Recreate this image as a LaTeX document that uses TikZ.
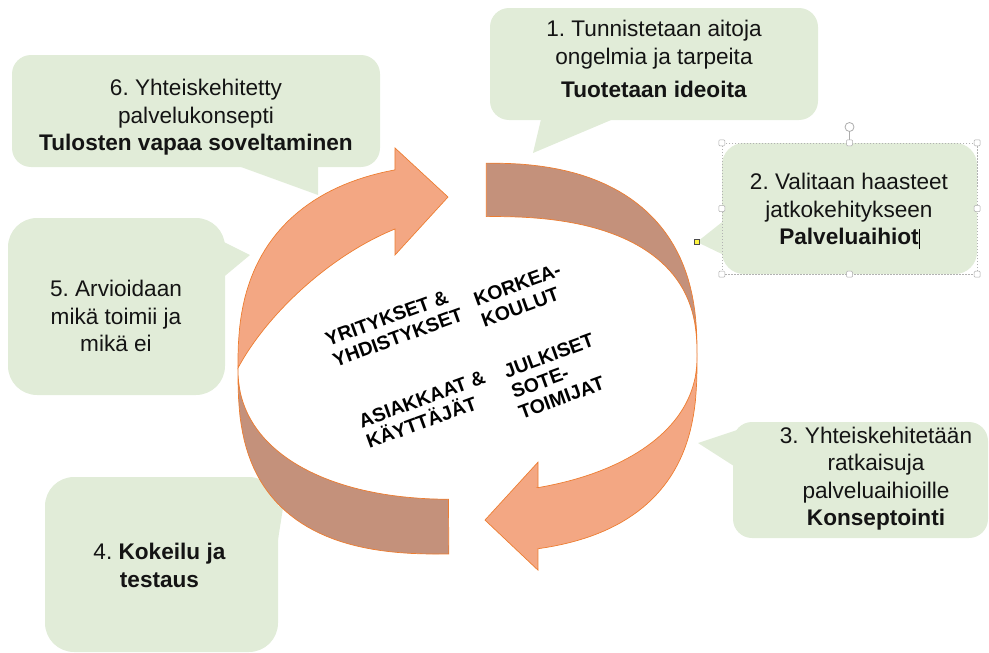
\documentclass[tikz,border=0pt]{standalone}
\usepackage{fontspec}
\setmainfont{Liberation Sans}
\definecolor{boxgreen}{RGB}{225,236,216}
\definecolor{arrlight}{RGB}{243,167,131}
\definecolor{arrdark}{RGB}{196,145,123}
\definecolor{arredge}{RGB}{237,125,49}
\begin{document}
\frenchspacing
\begin{tikzpicture}[x=1pt,y=-1pt,
  bubble/.style={fill=boxgreen, draw=none, inner sep=0pt},
  tail/.style={fill=boxgreen, draw=none},
  btext/.style={align=center, font=\fontsize{22.6}{27.5}\selectfont, inner sep=0pt, text=black!92},
  ctext/.style={align=left, font=\fontsize{19.5}{22}\selectfont\bfseries, inner sep=0pt, rotate=20, anchor=north west},
  ringlight/.style={fill=arrlight, draw=arredge, line width=0.7pt, line join=miter},
  ringdark/.style={fill=arrdark, draw=arredge, line width=0.7pt},
  handle/.style={draw=gray!65, fill=white, rounded corners=1pt, minimum size=6pt, inner sep=0pt, line width=0.5pt}
]
\useasboundingbox (0,0) rectangle (989,653);
\clip (0,0) rectangle (989,653);

% callout boxes
\node[bubble, rounded corners=19pt, minimum width=328pt, minimum height=112pt] (b1) at (654,64) {};
\node[bubble, rounded corners=22pt, minimum width=255pt, minimum height=131pt] (b2) at (849.5,208.5) {};
\node[bubble, rounded corners=19pt, minimum width=255pt, minimum height=116pt] (b3) at (860.5,480) {};
\node[bubble, rounded corners=29pt, minimum width=233pt, minimum height=175pt] (b4) at (161.5,564.5) {};
\node[bubble, rounded corners=29pt, minimum width=217pt, minimum height=177pt] (b5) at (116.5,306.5) {};
\node[bubble, rounded corners=19pt, minimum width=368pt, minimum height=112pt] (b6) at (196,111) {};

% tails
\fill[tail] (542,115) -- (623,115) -- (533,153) -- cycle;
\fill[tail] (726,219) -- (697,242) -- (726,256) -- cycle;
\fill[tail] (737,430) -- (698,443) -- (737,468) -- cycle;
\fill[tail] (262,497) -- (283,508) -- (274,565) -- cycle;
\fill[tail] (220,240) -- (250,255) -- (220,280) -- cycle;
\fill[tail] (230,163) -- (318,163) -- (318,195) -- cycle;

% texts
\node[btext] (t1) at (654,59) {1. Tunnistetaan aitoja\\ongelmia ja tarpeita\\[6pt]\textbf{Tuotetaan ideoita}};
\node[btext] (t2) at (849,209.4) {2. Valitaan haasteet\\jatkokehitykseen\\\textbf{Palveluaihiot}};
\node[btext] (t3) at (876,478.7) {3. Yhteiskehitetään\\ratkaisuja\\palveluaihioille\\\textbf{Konseptointi}};
\node[btext] (t4) at (159.5,565.6) {4. \textbf{Kokeilu ja}\\\textbf{testaus}};
\node[btext] (t5) at (116,316.1) {5. Arvioidaan\\mikä toimii ja\\mikä ei};
\node[btext] (t6) at (196,117.6) {6. Yhteiskehitetty\\palvelukonsepti\\\textbf{Tulosten vapaa soveltaminen}};

% selection frame around box 2
\draw[gray!60, dash pattern=on 1.5pt off 1.5pt, line width=0.5pt] (b2.north west) rectangle (b2.south east);
\node[draw=gray!65, circle, minimum size=9pt, inner sep=0pt, line width=0.8pt] (rot) at (849.5,127) {};
\draw[gray!65, line width=0.6pt] (rot) -- (b2.north);
\node[handle] (h1) at (b2.north west) {};
\node[handle] (h2) at (b2.north) {};
\node[handle] (h3) at (b2.north east) {};
\node[handle] (h4) at (b2.west) {};
\node[handle] (h5) at (b2.east) {};
\node[handle] (h6) at (b2.south west) {};
\node[handle] (h7) at (b2.south) {};
\node[handle] (h8) at (b2.south east) {};
\node[draw=gray!60!black, fill=yellow!75, minimum size=5pt, inner sep=0pt, line width=0.4pt] (adj) at (697,242) {};
\coordinate (cur1) at (919.5,229);
\coordinate (cur2) at (919.5,249);
\draw[line width=0.6pt] (cur1) -- (cur2);

% ring arrows (local frame centred on the ring, y downwards)
\begin{scope}[shift={(467.5,362)}, yslant=0.026]
\filldraw[ringlight]
  plot[domain=180:103.7, samples=40, variable=\t] ({-229.5*pow(abs(cos(\t))+0.0001,0.8)},{-198.5*pow(abs(sin(\t))+0.0001,0.8)})
  -- (-72.5,-215.9) -- (-19.5,-165.5) -- (-72.5,-108.9) -- (-72.5,-134.9)
  .. controls (-138,-110) and (-200.7,-52.8) .. (-229.5,0) -- cycle;
\filldraw[ringdark]
  plot[domain=87.5:0, samples=40, variable=\t] ({229.5*pow(abs(cos(\t))+0.0001,0.8)},{-198.5*pow(abs(sin(\t))+0.0001,0.8)})
  -- plot[domain=0:87.5, samples=40, variable=\t] ({229.5*pow(abs(cos(\t))+0.0001,0.8)},{-145*pow(abs(sin(\t))+0.0001,0.8)})
  -- cycle;
\filldraw[ringlight]
  plot[domain=0:78.3, samples=40, variable=\t] ({229.5*pow(abs(cos(\t))+0.0001,0.741)},{191.5*pow(abs(sin(\t))+0.0001,0.741)})
  -- (70.5,210) -- (17.5,158.5) -- (70.5,102) -- (70.5,127.5)
  -- plot[domain=74.2:0, samples=40, variable=\t] ({229.5*pow(abs(cos(\t))+0.0001,0.909)},{132*pow(abs(sin(\t))+0.0001,0.909)})
  -- cycle;
\filldraw[ringdark]
  plot[domain=180:91.9, samples=40, variable=\t] ({-229.5*pow(abs(cos(\t))+0.0001,0.741)},{191.5*pow(abs(sin(\t))+0.0001,0.741)})
  -- plot[domain=93.6:180, samples=40, variable=\t] ({-229.5*pow(abs(cos(\t))+0.0001,0.909)},{137*pow(abs(sin(\t))+0.0001,0.909)})
  -- cycle;
\end{scope}

% center labels
\node[ctext] (ca) at (323.5,333.5) {YRITYKSET \&\\YHDISTYKSET};
\node[ctext] (cb) at (471.9,293.5) {KORKEA-\\KOULUT};
\node[ctext] (cc) at (356.9,415.1) {ASIAKKAAT \&\\KÄYTTÄJÄT};
\node[ctext] (cd) at (501.9,365.1) {JULKISET\\SOTE-\\TOIMIJAT};
\end{tikzpicture}
\end{document}
